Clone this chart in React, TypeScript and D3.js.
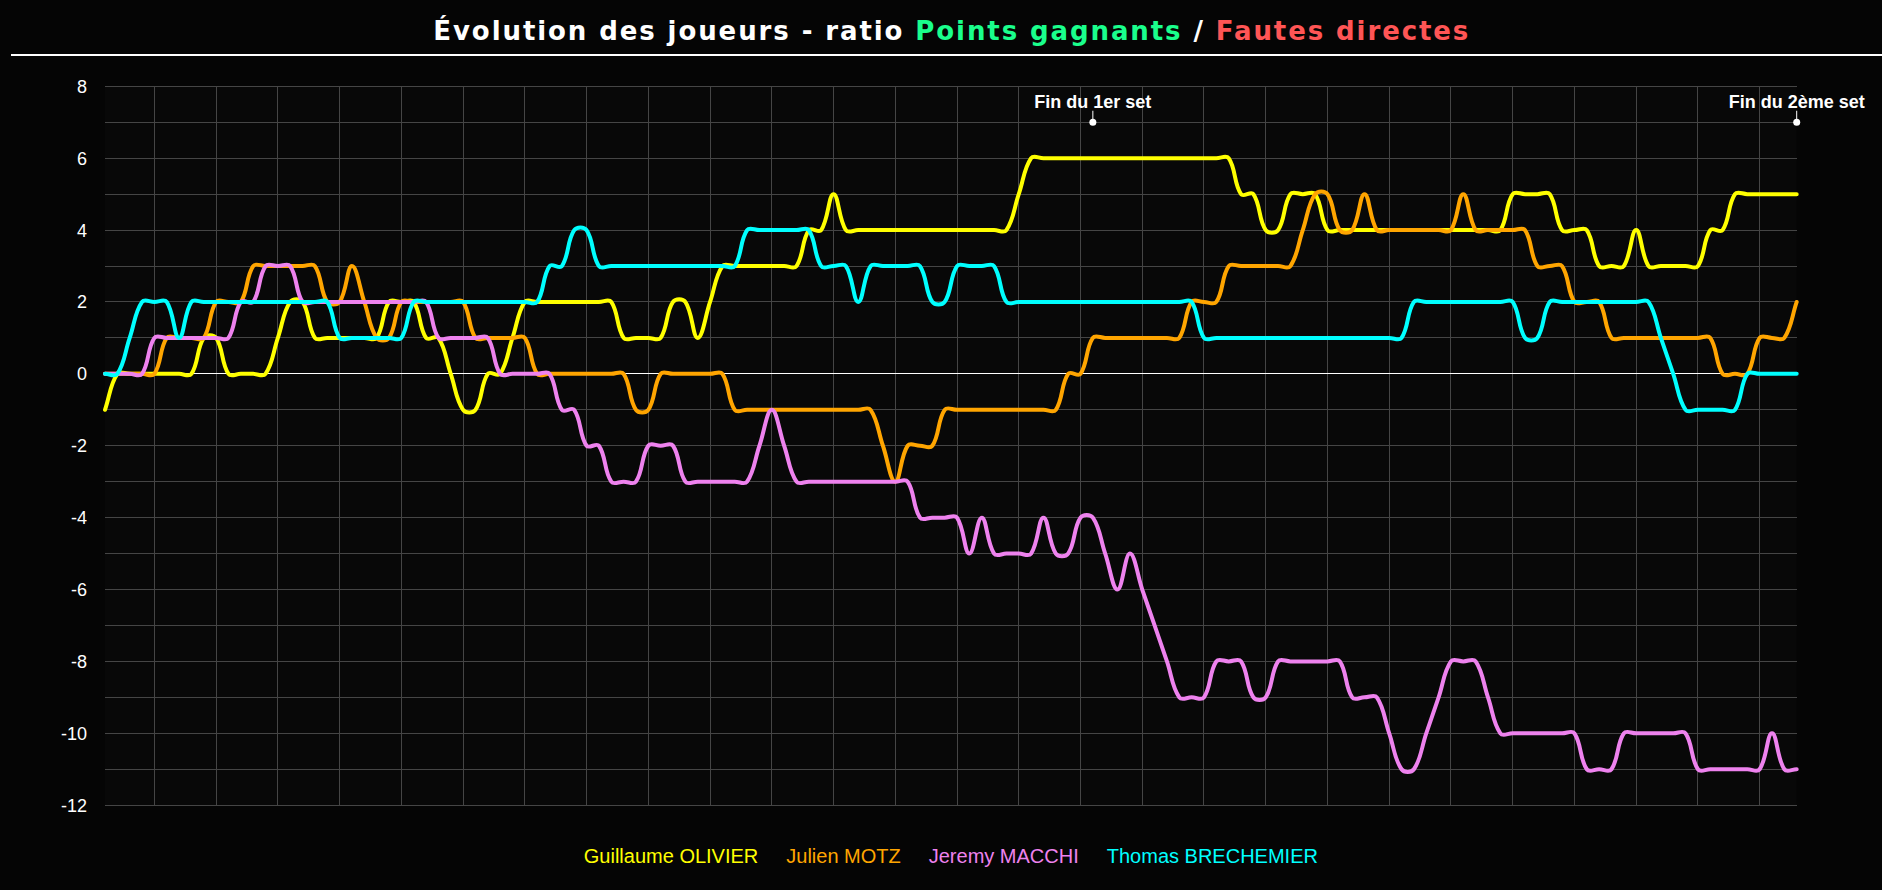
import React, { useMemo } from 'react';
import * as d3 from 'd3';

const W = 1882;
const H = 890;

// x: point number (1..138)
const pointNumbers: number[] = d3.range(1, 139);

const guillaume: number[] = [
  -1, 0, 0, 0, 0, 0, 0, 0, 1, 1,
  0, 0, 0, 0, 1, 2, 2, 1, 1, 1,
  1, 1, 1, 2, 2, 2, 1, 1, 0, -1,
  -1, 0, 0, 1, 2, 2, 2, 2, 2, 2,
  2, 2, 1, 1, 1, 1, 2, 2, 1, 2,
  3, 3, 3, 3, 3, 3, 3, 4, 4, 5,
  4, 4, 4, 4, 4, 4, 4, 4, 4, 4,
  4, 4, 4, 4, 5, 6, 6, 6, 6, 6,
  6, 6, 6, 6, 6, 6, 6, 6, 6, 6,
  6, 6, 5, 5, 4, 4, 5, 5, 5, 4,
  4, 4, 4, 4, 4, 4, 4, 4, 4, 4,
  4, 4, 4, 4, 5, 5, 5, 5, 4, 4,
  4, 3, 3, 3, 4, 3, 3, 3, 3, 3,
  4, 4, 5, 5, 5, 5, 5, 5,
];

const julien: number[] = [
  0, 0, 0, 0, 0, 1, 1, 1, 1, 2,
  2, 2, 3, 3, 3, 3, 3, 3, 2, 2,
  3, 2, 1, 1, 2, 2, 2, 2, 2, 2,
  1, 1, 1, 1, 1, 0, 0, 0, 0, 0,
  0, 0, 0, -1, -1, 0, 0, 0, 0, 0,
  0, -1, -1, -1, -1, -1, -1, -1, -1, -1,
  -1, -1, -1, -2, -3, -2, -2, -2, -1, -1,
  -1, -1, -1, -1, -1, -1, -1, -1, 0, 0,
  1, 1, 1, 1, 1, 1, 1, 1, 2, 2,
  2, 3, 3, 3, 3, 3, 3, 4, 5, 5,
  4, 4, 5, 4, 4, 4, 4, 4, 4, 4,
  5, 4, 4, 4, 4, 4, 3, 3, 3, 2,
  2, 2, 1, 1, 1, 1, 1, 1, 1, 1,
  1, 0, 0, 0, 1, 1, 1, 2,
];

const jeremy: number[] = [
  0, 0, 0, 0, 1, 1, 1, 1, 1, 1,
  1, 2, 2, 3, 3, 3, 2, 2, 2, 2,
  2, 2, 2, 2, 2, 2, 2, 1, 1, 1,
  1, 1, 0, 0, 0, 0, 0, -1, -1, -2,
  -2, -3, -3, -3, -2, -2, -2, -3, -3, -3,
  -3, -3, -3, -2, -1, -2, -3, -3, -3, -3,
  -3, -3, -3, -3, -3, -3, -4, -4, -4, -4,
  -5, -4, -5, -5, -5, -5, -4, -5, -5, -4,
  -4, -5, -6, -5, -6, -7, -8, -9, -9, -9,
  -8, -8, -8, -9, -9, -8, -8, -8, -8, -8,
  -8, -9, -9, -9, -10, -11, -11, -10, -9, -8,
  -8, -8, -9, -10, -10, -10, -10, -10, -10, -10,
  -11, -11, -11, -10, -10, -10, -10, -10, -10, -11,
  -11, -11, -11, -11, -11, -10, -11, -11,
];

const thomas: number[] = [
  0, 0, 1, 2, 2, 2, 1, 2, 2, 2,
  2, 2, 2, 2, 2, 2, 2, 2, 2, 1,
  1, 1, 1, 1, 1, 2, 2, 2, 2, 2,
  2, 2, 2, 2, 2, 2, 3, 3, 4, 4,
  3, 3, 3, 3, 3, 3, 3, 3, 3, 3,
  3, 3, 4, 4, 4, 4, 4, 4, 3, 3,
  3, 2, 3, 3, 3, 3, 3, 2, 2, 3,
  3, 3, 3, 2, 2, 2, 2, 2, 2, 2,
  2, 2, 2, 2, 2, 2, 2, 2, 2, 1,
  1, 1, 1, 1, 1, 1, 1, 1, 1, 1,
  1, 1, 1, 1, 1, 1, 2, 2, 2, 2,
  2, 2, 2, 2, 2, 1, 1, 2, 2, 2,
  2, 2, 2, 2, 2, 2, 1, 0, -1, -1,
  -1, -1, -1, 0, 0, 0, 0, 0,
];

const playerNames: string[] = ['Guillaume OLIVIER', 'Julien MOTZ', 'Jeremy MACCHI', 'Thomas BRECHEMIER'];
const playerColors: string[] = ['#ffff00', '#ffa500', '#ee82ee', '#00ffff'];
const playerSeries: number[][] = [guillaume, julien, jeremy, thomas];

const yTicks: number[] = d3.range(-12, 9, 1);
const yLabels: number[] = d3.range(-12, 9, 2);
const xGridValues: number[] = d3.range(5, 136, 5);

const setLabels: string[] = ['Fin du 1er set', 'Fin du 2ème set'];
const setEndPoints: number[] = [81, 138];
const setMarkerValue = 7;

const titleParts: { text: string; color: string }[] = [
  { text: 'Évolution des joueurs - ratio ', color: '#ffffff' },
  { text: 'Points gagnants', color: '#1aff8c' },
  { text: ' / ', color: '#ffffff' },
  { text: 'Fautes directes', color: '#ff5555' },
];

// Chart.js-like cubic spline (tension) as a d3 curve factory
function curveTension(tension: number) {
  return function (context: any) {
    let pts: [number, number][] = [];
    return {
      areaStart() {},
      areaEnd() {},
      lineStart() {
        pts = [];
      },
      point(x: number, y: number) {
        pts.push([+x, +y]);
      },
      lineEnd() {
        const n = pts.length;
        if (!n) return;
        const cpPrev: [number, number][] = [];
        const cpNext: [number, number][] = [];
        for (let i = 0; i < n; i++) {
          const cur = pts[i];
          const prev = pts[i - 1] || cur;
          const next = pts[i + 1] || cur;
          const d01 = Math.hypot(cur[0] - prev[0], cur[1] - prev[1]);
          const d12 = Math.hypot(next[0] - cur[0], next[1] - cur[1]);
          let s01 = d01 / (d01 + d12);
          let s12 = d12 / (d01 + d12);
          if (!isFinite(s01)) s01 = 0;
          if (!isFinite(s12)) s12 = 0;
          const fa = tension * s01;
          const fb = tension * s12;
          cpPrev[i] = [cur[0] - fa * (next[0] - prev[0]), cur[1] - fa * (next[1] - prev[1])];
          cpNext[i] = [cur[0] + fb * (next[0] - prev[0]), cur[1] + fb * (next[1] - prev[1])];
        }
        context.moveTo(pts[0][0], pts[0][1]);
        for (let i = 1; i < n; i++) {
          context.bezierCurveTo(
            cpNext[i - 1][0], cpNext[i - 1][1],
            cpPrev[i][0], cpPrev[i][1],
            pts[i][0], pts[i][1]
          );
        }
      },
    };
  };
}

const margin = { left: 105, right: W - 1796.7, top: 86.3, bottom: H - 805.2 };

export default function App() {
  const x = d3.scaleLinear().domain([1, 138]).range([margin.left, W - margin.right]);
  const y = d3.scaleLinear().domain([-12, 8]).range([H - margin.bottom, margin.top]);

  const line = d3
    .line<number>()
    .x((_, i) => x(pointNumbers[i]))
    .y((d) => y(d))
    .curve(curveTension(0.4) as any);

  const legendFont = '20px "Liberation Sans", Arial, sans-serif';
  const legendLayout = useMemo(() => {
    const c = document.createElement('canvas').getContext('2d')!;
    c.font = legendFont;
    const widths = playerNames.map((n) => c.measureText(n).width);
    const gap = 28;
    const total = widths.reduce((a, b) => a + b, 0) + gap * (widths.length - 1);
    const center = (x.range()[0] + x.range()[1]) / 2;
    let cur = center - total / 2;
    return widths.map((w) => {
      const p = cur;
      cur += w + gap;
      return p;
    });
  }, []);

  const plotCenter = (x.range()[0] + x.range()[1]) / 2;

  return (
    <div style={{ position: 'absolute', left: 0, top: 0, width: W, height: H }}>
      <svg width={W} height={H} style={{ display: 'block', background: '#050505' }}>
        {/* title */}
        <text
          x={plotCenter}
          y={40}
          textAnchor="middle"
          fontFamily='"DejaVu Sans", sans-serif'
          fontWeight="bold"
          fontSize={26}
          textLength={1035}
          lengthAdjust="spacing"
        >
          {titleParts.map((p, i) => (
            <tspan key={i} fill={p.color}>
              {p.text}
            </tspan>
          ))}
        </text>
        <line x1={11} x2={W} y1={55} y2={55} stroke="#ffffff" strokeWidth={2} />

        {/* plot background */}
        <rect
          x={x.range()[0]}
          y={y.range()[1]}
          width={x.range()[1] - x.range()[0]}
          height={y.range()[0] - y.range()[1]}
          fill="#080808"
        />

        {/* grid */}
        {yTicks.map((t) => (
          <line
            key={'h' + t}
            x1={x.range()[0]}
            x2={x.range()[1]}
            y1={y(t)}
            y2={y(t)}
            stroke="#454545"
            strokeWidth={1}
            shapeRendering="crispEdges"
          />
        ))}
        {xGridValues.map((v) => (
          <line
            key={'v' + v}
            x1={x(v)}
            x2={x(v)}
            y1={y(8)}
            y2={y(-12)}
            stroke="#454545"
            strokeWidth={1}
            shapeRendering="crispEdges"
          />
        ))}
        <line x1={x.range()[0]} x2={x.range()[1]} y1={y(0)} y2={y(0)} stroke="#ffffff" strokeWidth={1} shapeRendering="crispEdges" />

        {/* y labels */}
        {yLabels.map((t) => (
          <text
            key={'yl' + t}
            x={87}
            y={y(t)}
            dy="0.36em"
            textAnchor="end"
            fill="#ffffff"
            fontFamily='"Liberation Sans", Arial, sans-serif'
            fontSize={18}
          >
            {t}
          </text>
        ))}

        {/* series */}
        {playerSeries.map((s, k) => (
          <path
            key={'s' + k}
            d={line(s) || ''}
            fill="none"
            stroke={playerColors[k]}
            strokeWidth={4}
            strokeLinejoin="round"
            strokeLinecap="round"
          />
        ))}

        {/* set markers */}
        {setEndPoints.map((p, i) => (
          <g key={'m' + i}>
            <line x1={x(p)} x2={x(p)} y1={y(setMarkerValue) - 11.5} y2={y(setMarkerValue)} stroke="#ffffff" strokeWidth={1} />
            <circle cx={x(p)} cy={y(setMarkerValue)} r={3.5} fill="#ffffff" />
            <text
              x={x(p)}
              y={y(setMarkerValue) - 14}
              textAnchor="middle"
              fill="#ffffff"
              fontFamily='"Liberation Sans", Arial, sans-serif'
              fontWeight="bold"
              fontSize={18}
            >
              {setLabels[i]}
            </text>
          </g>
        ))}

        {/* legend */}
        {playerNames.map((n, i) => (
          <text
            key={'lg' + i}
            x={legendLayout[i]}
            y={863}
            fill={playerColors[i]}
            style={{ font: legendFont }}
          >
            {n}
          </text>
        ))}
      </svg>
    </div>
  );
}
